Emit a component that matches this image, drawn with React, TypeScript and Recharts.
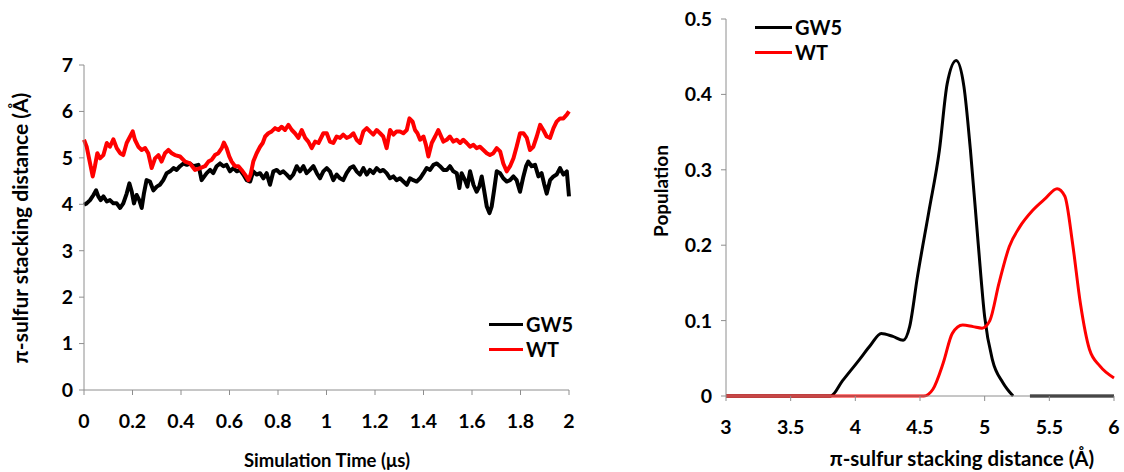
import React from 'react';
import { LineChart, Line, XAxis, YAxis, Label, Legend } from 'recharts';

// ---------- Left panel: distance vs simulation time ----------
const gw5Time = [0, 0.011, 0.025, 0.039, 0.05, 0.059, 0.069, 0.08, 0.094, 0.107, 0.121, 0.135, 0.149, 0.162, 0.176, 0.187, 0.197, 0.206, 0.217, 0.228, 0.238, 0.247, 0.258, 0.272, 0.286, 0.3, 0.313, 0.327, 0.341, 0.355, 0.369, 0.382, 0.396, 0.41, 0.424, 0.437, 0.451, 0.472, 0.485,
  0.506, 0.52, 0.533, 0.547, 0.561, 0.575, 0.588, 0.602, 0.616, 0.63, 0.643, 0.657, 0.671, 0.685, 0.698, 0.712, 0.726, 0.74, 0.753, 0.767, 0.781, 0.795, 0.808, 0.822, 0.836, 0.85, 0.863, 0.877, 0.891, 0.905, 0.918, 0.932, 0.946, 0.96, 0.973,
  0.987, 1.001, 1.014, 1.028, 1.042, 1.056, 1.069, 1.083, 1.097, 1.111, 1.124, 1.138, 1.152, 1.166, 1.179, 1.193, 1.207, 1.221, 1.234, 1.248, 1.262, 1.276, 1.289, 1.303, 1.317, 1.331, 1.344, 1.358, 1.372, 1.386, 1.4, 1.413, 1.427, 1.441, 1.455, 1.468,
  1.482, 1.496, 1.509, 1.523, 1.537, 1.548, 1.557, 1.571, 1.581, 1.592, 1.606, 1.619, 1.63, 1.64, 1.65, 1.661, 1.672, 1.681, 1.691, 1.702, 1.716, 1.729, 1.743, 1.757, 1.771, 1.784, 1.798, 1.812, 1.823, 1.832, 1.846, 1.86, 1.874, 1.887, 1.897, 1.908, 1.922, 1.936, 1.949, 1.963, 1.977, 1.991, 2.0];
const gw5Distance = [3.99, 4.02, 4.09, 4.2, 4.3, 4.17, 4.09, 4.17, 4.06, 4.09, 4.02, 4.02, 3.92, 4.02, 4.23, 4.45, 4.27, 4.02, 4.2, 4.09, 3.92, 4.23, 4.52, 4.49, 4.3, 4.38, 4.42, 4.52, 4.67, 4.71, 4.78, 4.74, 4.82, 4.88, 4.85, 4.88, 4.82, 4.85, 4.52,
  4.67, 4.74, 4.67, 4.82, 4.88, 4.82, 4.85, 4.71, 4.78, 4.71, 4.74, 4.64, 4.52, 4.49, 4.71, 4.64, 4.67, 4.56, 4.67, 4.42, 4.71, 4.74, 4.67, 4.71, 4.64, 4.56, 4.64, 4.82, 4.71, 4.82, 4.67, 4.74, 4.82, 4.67, 4.56,
  4.71, 4.78, 4.71, 4.52, 4.64, 4.56, 4.52, 4.67, 4.78, 4.82, 4.71, 4.64, 4.78, 4.64, 4.74, 4.67, 4.78, 4.71, 4.74, 4.67, 4.56, 4.6, 4.52, 4.56, 4.49, 4.42, 4.56, 4.52, 4.49, 4.56, 4.67, 4.78, 4.74, 4.85, 4.88, 4.82,
  4.74, 4.74, 4.82, 4.71, 4.67, 4.35, 4.67, 4.52, 4.38, 4.71, 4.42, 4.27, 4.38, 4.6, 4.3, 3.95, 3.81, 3.95, 4.3, 4.71, 4.67, 4.56, 4.49, 4.52, 4.6, 4.52, 4.27, 4.6, 4.82, 4.92, 4.82, 4.85, 4.6, 4.67, 4.45, 4.23, 4.52, 4.6, 4.64, 4.78, 4.64, 4.71, 4.17];

const wtTime = [0, 0.011, 0.025, 0.036, 0.045, 0.055, 0.066, 0.08, 0.094, 0.107, 0.121, 0.135, 0.149, 0.162, 0.176, 0.19, 0.201, 0.21, 0.224, 0.238, 0.252, 0.265, 0.279, 0.293, 0.307, 0.32, 0.334, 0.348, 0.362, 0.375, 0.396, 0.417, 0.437, 0.458, 0.479,
  0.499, 0.513, 0.527, 0.54, 0.554, 0.568, 0.577, 0.588, 0.599, 0.609, 0.623, 0.637, 0.65, 0.664, 0.678, 0.687, 0.698, 0.712, 0.726, 0.737, 0.747, 0.76, 0.774, 0.788, 0.802, 0.815, 0.829, 0.843, 0.857, 0.87, 0.884, 0.898, 0.912, 0.925, 0.939, 0.953, 0.967,
  0.987, 1.001, 1.014, 1.028, 1.042, 1.056, 1.069, 1.083, 1.097, 1.111, 1.124, 1.138, 1.152, 1.166, 1.179, 1.193, 1.207, 1.221, 1.234, 1.248, 1.262, 1.276, 1.289, 1.303, 1.317, 1.331, 1.342, 1.355, 1.365, 1.375, 1.386, 1.4, 1.41, 1.42, 1.434, 1.448, 1.461,
  1.482, 1.496, 1.509, 1.523, 1.537, 1.551, 1.564, 1.578, 1.592, 1.606, 1.619, 1.633, 1.647, 1.661, 1.674, 1.688, 1.702, 1.716, 1.729, 1.743, 1.757, 1.771, 1.784, 1.798, 1.812, 1.826, 1.839, 1.853, 1.867, 1.881, 1.894, 1.908, 1.922, 1.936, 1.949, 1.963, 1.977, 1.991, 2.0];
const wtDistance = [5.39, 5.24, 4.88, 4.6, 4.82, 5.1, 4.99, 5.06, 5.32, 5.24, 5.4, 5.21, 5.1, 5.06, 5.32, 5.46, 5.57, 5.39, 5.24, 5.17, 5.21, 5.1, 4.78, 4.99, 5.06, 4.92, 5.1, 5.17, 5.1, 5.06, 5.03, 4.92, 4.88, 4.74, 4.78,
  4.82, 4.92, 4.96, 5.06, 5.1, 5.21, 5.33, 5.21, 5.03, 4.92, 4.82, 4.82, 4.74, 4.64, 4.52, 4.64, 4.92, 5.1, 5.24, 5.32, 5.46, 5.53, 5.57, 5.64, 5.6, 5.67, 5.6, 5.71, 5.6, 5.53, 5.43, 5.6, 5.43, 5.35, 5.21, 5.35, 5.32,
  5.53, 5.53, 5.35, 5.32, 5.46, 5.43, 5.5, 5.43, 5.46, 5.53, 5.39, 5.32, 5.57, 5.64, 5.57, 5.5, 5.6, 5.53, 5.46, 5.21, 5.6, 5.5, 5.57, 5.57, 5.53, 5.6, 5.85, 5.78, 5.6, 5.53, 5.39, 5.46, 5.28, 5.03, 5.32, 5.46, 5.6,
  5.35, 5.39, 5.46, 5.35, 5.39, 5.32, 5.39, 5.32, 5.24, 5.28, 5.21, 5.24, 5.17, 5.1, 5.06, 5.1, 5.21, 5.14, 4.88, 4.71, 4.82, 4.99, 5.24, 5.53, 5.53, 5.43, 5.17, 5.24, 5.46, 5.71, 5.6, 5.46, 5.43, 5.64, 5.78, 5.85, 5.85, 5.93, 6.0];

const timeTicks = [0, 0.2, 0.4, 0.6, 0.8, 1, 1.2, 1.4, 1.6, 1.8, 2];
const distanceTicks = [0, 1, 2, 3, 4, 5, 6, 7];

// ---------- Right panel: population vs stacking distance ----------
const gw5StackDist = [3.0, 3.81, 3.9, 4.03, 4.12, 4.2, 4.29, 4.37, 4.42, 4.48, 4.57, 4.65, 4.71, 4.78, 4.84, 4.89, 4.95, 5.0, 5.06, 5.14, 5.22, 5.28, 5.35, 6.0];
const gw5Population = [0, 0, 0.02, 0.048, 0.068, 0.083, 0.079, 0.074, 0.092, 0.158, 0.246, 0.326, 0.414, 0.445, 0.41, 0.326, 0.202, 0.105, 0.048, 0.018, 0, null, 0, 0];

const wtStackDist = [3.0, 4.4, 4.53, 4.6, 4.68, 4.75, 4.83, 4.91, 4.98, 5.04, 5.11, 5.19, 5.27, 5.37, 5.47, 5.56, 5.62, 5.68, 5.74, 5.81, 5.89, 6.0];
const wtPopulation = [0, 0, 0, 0.009, 0.044, 0.083, 0.094, 0.092, 0.09, 0.1, 0.149, 0.198, 0.224, 0.246, 0.262, 0.275, 0.265, 0.202, 0.123, 0.062, 0.04, 0.024];

const stackTicks = [3, 3.5, 4, 4.5, 5, 5.5, 6];
const populationTicks = [0, 0.1, 0.2, 0.3, 0.4, 0.5];

const seriesNames = ['GW5', 'WT'];
const seriesColors = ['#000000', '#ff0000'];

const zip = (xs: number[], ys: (number | null)[]) => xs.map((x, i) => ({ x, y: ys[i] }));
const gw5TimeData = zip(gw5Time, gw5Distance);
const wtTimeData = zip(wtTime, wtDistance);
const gw5PopData = zip(gw5StackDist, gw5Population);
const wtPopData = zip(wtStackDist, wtPopulation);

const FONT = 'Lato, "Open Sans", "Liberation Sans", sans-serif';
const AXIS_GREY = '#8e8e8e';
const tickStyle = { fontFamily: FONT, fontSize: 19.5, fontWeight: 700, fill: '#000' };
const titleStyle = (size: number): React.CSSProperties => ({ fontFamily: FONT, fontSize: size, fontWeight: 700, fill: '#000' });

const xTitle = (cx: number, cy: number, text: string, size: number) => () => (
  <text x={cx} y={cy} textAnchor="middle" dominantBaseline="central" style={titleStyle(size)}>{text}</text>
);
const yTitle = (cx: number, cy: number, text: string, size: number) => () => (
  <text x={cx} y={cy} transform={`rotate(-90 ${cx} ${cy})`} textAnchor="middle" dominantBaseline="central" style={titleStyle(size)}>{text}</text>
);

const legendContent = (lineLen: number) => () => (
  <div>
    {seriesNames.map((name, i) => (
      <div key={name} style={{ display: 'flex', alignItems: 'center', height: 25 }}>
        <div style={{ width: lineLen, height: 3, background: seriesColors[i] }} />
        <span style={{ marginLeft: 3, fontFamily: FONT, fontSize: 20, fontWeight: 700, color: '#000', lineHeight: '25px' }}>{name}</span>
      </div>
    ))}
  </div>
);

export default function App() {
  return (
    <div style={{ position: 'absolute', left: 0, top: 0, width: 1124, height: 472, background: '#fff' }}>
      <div style={{ position: 'absolute', left: 0, top: 0 }}>
        <LineChart width={600} height={472} margin={{ top: 65, right: 31, bottom: 0, left: 0 }}>
          <XAxis type="number" dataKey="x" domain={[0, 2]} ticks={timeTicks} tick={tickStyle} tickSize={5} tickMargin={19}
            stroke={AXIS_GREY} height={82} interval={0}>
            <Label content={xTitle(327, 460, 'Simulation Time (μs)', 18.5)} />
          </XAxis>
          <YAxis type="number" domain={[0, 7]} ticks={distanceTicks} tick={tickStyle} tickSize={5} tickMargin={6}
            stroke={AXIS_GREY} width={84} interval={0}>
            <Label content={yTitle(19, 228, 'π-sulfur stacking distance (Å)', 21)} />
          </YAxis>
          <Legend layout="vertical" align="center" verticalAlign="middle" content={legendContent(34)}
            wrapperStyle={{ left: 489, top: 312, width: 100, height: 50 }} />
          <Line name="GW5" data={gw5TimeData} dataKey="y" type="linear" dot={false} stroke={seriesColors[0]} strokeWidth={4}
            strokeLinejoin="round" isAnimationActive={false} />
          <Line name="WT" data={wtTimeData} dataKey="y" type="linear" dot={false} stroke={seriesColors[1]} strokeWidth={4}
            strokeLinejoin="round" isAnimationActive={false} />
        </LineChart>
      </div>
      <div style={{ position: 'absolute', left: 600, top: 0 }}>
        <LineChart width={524} height={472} margin={{ top: 19, right: 10, bottom: 0, left: 0 }}>
          <XAxis type="number" dataKey="x" domain={[3, 6]} ticks={stackTicks} tick={tickStyle} tickSize={5} tickMargin={19}
            stroke={AXIS_GREY} height={76} interval={0}>
            <Label content={xTitle(362, 458, 'π-sulfur stacking distance (Å)', 20.5)} />
          </XAxis>
          <YAxis type="number" domain={[0, 0.5]} ticks={populationTicks} tick={tickStyle} tickSize={5} tickMargin={9}
            stroke={AXIS_GREY} width={126} interval={0}>
            <Label content={yTitle(60, 191, 'Population', 19)} />
          </YAxis>
          <Legend layout="vertical" align="center" verticalAlign="middle" content={legendContent(37)}
            wrapperStyle={{ left: 155, top: 15, width: 100, height: 50 }} />
          <Line name="GW5" data={gw5PopData} dataKey="y" type="monotone" dot={false} stroke={seriesColors[0]} strokeWidth={3}
            isAnimationActive={false} />
          <Line name="WT" data={wtPopData} dataKey="y" type="monotone" dot={false} stroke={seriesColors[1]} strokeWidth={3}
            isAnimationActive={false} />
        </LineChart>
      </div>
    </div>
  );
}
